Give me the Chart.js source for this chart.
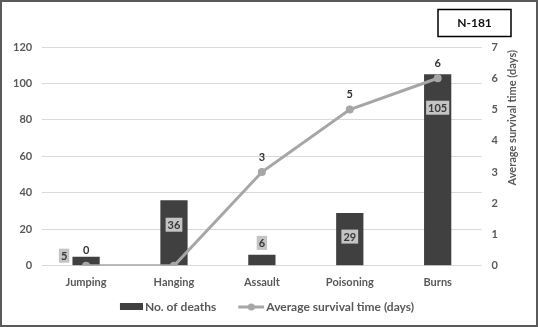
<!DOCTYPE html>
<html><head><meta charset="utf-8">
<script src="https://cdn.jsdelivr.net/npm/chart.js@4/dist/chart.umd.min.js"></script>
<style>html,body{margin:0;padding:0;background:#fff}#wrap{width:538px;height:327px;position:relative}</style>
</head><body><div id="wrap"><canvas id="c" width="538" height="327"></canvas></div>
<script>
const categories = ['Jumping', 'Hanging', 'Assault', 'Poisoning', 'Burns'];
const deaths = [5, 36, 6, 29, 105];
const survivalDays = [0, 0, 3, 5, 6];
const leftTickMax = 120;
const leftTickStep = 20;
const rightTickMax = 7;
const rightTickStep = 1;
const sampleLabel = 'N-181';
const seriesNames = ['No. of deaths', 'Average survival time (days)'];
const rightAxisTitle = 'Average survival time (days)';

const FONT = 'Lato';
const BAR_COLOR = '#404040';
const LINE_COLOR = '#a6a6a6';
const TEXT_COLOR = '#595959';

function makeBarSwatch() {
  const c = document.createElement('canvas'); c.width = 50; c.height = 8;
  const g = c.getContext('2d'); g.fillStyle = BAR_COLOR; g.fillRect(27, 0, 23, 7); return c;
}
function makeLineSwatch() {
  const c = document.createElement('canvas'); c.width = 50; c.height = 8;
  const g = c.getContext('2d'); g.strokeStyle = LINE_COLOR; g.lineWidth = 3;
  g.beginPath(); g.moveTo(24, 4); g.lineTo(50, 4); g.stroke();
  g.fillStyle = LINE_COLOR; g.beginPath(); g.arc(37, 4, 3.5, 0, Math.PI * 2); g.fill(); return c;
}
const swatches = [makeBarSwatch(), makeLineSwatch()];

const decorPlugin = {
  id: 'decor',
  afterDraw(chart) {
    const ctx = chart.ctx;
    const area = chart.chartArea;
    ctx.save();
    ctx.strokeStyle = '#5a5a5a'; ctx.lineWidth = 2;
    ctx.strokeRect(1, 1, chart.width - 2, chart.height - 2);
    ctx.strokeStyle = '#000'; ctx.lineWidth = 1.5;
    ctx.strokeRect(438, 9.5, 73, 27);
    ctx.fillStyle = '#111'; ctx.font = 'bold 12px ' + FONT;
    ctx.textAlign = 'center'; ctx.textBaseline = 'middle';
    ctx.fillText(sampleLabel, 474.5, 23);
    ctx.translate(512, area.top + 3);
    ctx.rotate(-Math.PI / 2);
    ctx.textAlign = 'right'; ctx.textBaseline = 'middle';
    ctx.fillStyle = TEXT_COLOR; ctx.font = 'bold 11px ' + FONT;
    ctx.fillText(rightAxisTitle, 0, 0);
    ctx.restore();
  },
  beforeDatasetsDraw(chart) {
    const ctx = chart.ctx;
    const pts = chart.getDatasetMeta(1).data;
    ctx.save();
    ctx.textAlign = 'center'; ctx.textBaseline = 'middle';
    ctx.font = 'bold 11px ' + FONT;
    ctx.fillStyle = '#333';
    pts.forEach((p, i) => ctx.fillText(String(survivalDays[i]), p.x, p.y - 15));
    ctx.restore();
  },
  afterDatasetsDraw(chart) {
    const ctx = chart.ctx;
    const bars = chart.getDatasetMeta(0).data;
    const pts = chart.getDatasetMeta(1).data;
    ctx.save();
    ctx.textAlign = 'center'; ctx.textBaseline = 'middle';
    ctx.font = 'bold 11px ' + FONT;
    bars.forEach((b, i) => {
      const txt = String(deaths[i]);
      const h = b.base - b.y;
      let x = b.x, y;
      if (h > 30) {
        y = b.y + 20 + h * 0.07;
      } else {
        y = b.y - 12;
        if (Math.abs((pts[i].y - 15) - y) < 14 && Math.abs(pts[i].x - x) < 10) {
          x = b.x - 22; y = b.y - 1;
        }
      }
      const w = ctx.measureText(txt).width + 4;
      ctx.fillStyle = '#c4c4c4';
      ctx.fillRect(x - w / 2, y - 7, w, 14);
      ctx.fillStyle = '#3a3a3a';
      ctx.fillText(txt, x, y + 0.5);
    });
    ctx.restore();
  }
};

new Chart(document.getElementById('c'), {
  data: {
    labels: categories,
    datasets: [
      { type: 'bar', label: seriesNames[0], data: deaths, yAxisID: 'y',
        backgroundColor: BAR_COLOR, borderWidth: 0,
        categoryPercentage: 1, barPercentage: 0.31, order: 1 },
      { type: 'line', label: seriesNames[1], data: survivalDays, yAxisID: 'y1',
        borderColor: LINE_COLOR, backgroundColor: LINE_COLOR, borderWidth: 3,
        pointRadius: 4, pointBackgroundColor: LINE_COLOR, pointBorderWidth: 0,
        tension: 0, order: 0 }
    ]
  },
  options: {
    responsive: false, animation: false, devicePixelRatio: 1,
    layout: { padding: { left: 3, right: 30, top: 47, bottom: 4 } },
    plugins: {
      tooltip: { enabled: false },
      legend: {
        position: 'bottom',
        labels: {
          usePointStyle: true, pointStyleWidth: 42, padding: 2,
          font: { family: FONT, size: 12, weight: 'bold' }, color: TEXT_COLOR,
          generateLabels(chart) {
            return chart.data.datasets.map((ds, i) => ({
              text: ds.label, pointStyle: swatches[i],
              fillStyle: ds.backgroundColor, strokeStyle: ds.borderColor || ds.backgroundColor,
              lineWidth: 0, hidden: false, datasetIndex: i, fontColor: TEXT_COLOR
            }));
          }
        }
      }
    },
    scales: {
      x: {
        grid: { display: false, drawTicks: false }, border: { display: false },
        ticks: { color: TEXT_COLOR, font: { family: FONT, size: 11, weight: 'bold' }, padding: 10, maxRotation: 0 }
      },
      y: {
        position: 'left', min: 0, max: leftTickMax,
        grid: { color: '#d9d9d9', drawTicks: false }, border: { display: false },
        ticks: { stepSize: leftTickStep, color: TEXT_COLOR, font: { family: FONT, size: 11, weight: 'bold' }, padding: 10 }
      },
      y1: {
        position: 'right', min: 0, max: rightTickMax,
        grid: { display: false, drawTicks: false }, border: { display: false },
        ticks: { stepSize: rightTickStep, color: TEXT_COLOR, font: { family: FONT, size: 11, weight: 'bold' }, padding: 10 }
      }
    }
  },
  plugins: [decorPlugin]
});
</script></body></html>
